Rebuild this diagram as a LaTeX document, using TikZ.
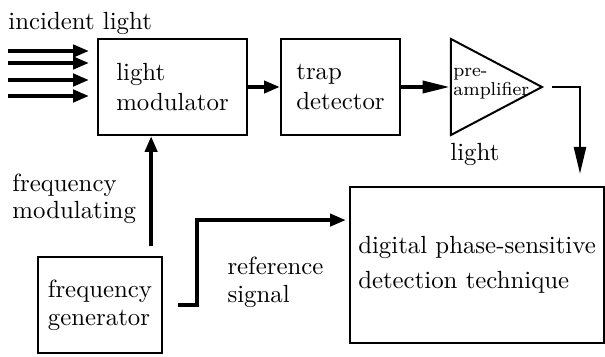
\documentclass[tikz,border=0pt]{standalone}
\usetikzlibrary{arrows.meta,positioning,shapes.geometric,calc}
\tikzset{
  >={Triangle[length=6.4pt,width=4.8pt]},
  block/.style={draw,line width=0.8pt,align=left,inner sep=0pt},
  ampshape/.style={draw,line width=0.8pt,isosceles triangle,isosceles triangle stretches,
    minimum width=38.7pt,minimum height=36.7pt,inner sep=0pt},
  amptext/.style={font=\fontsize{7.5}{6}\selectfont,align=left,inner sep=0pt},
  flow/.style={->,line width=1.6pt},
  longflow/.style={-{Triangle[length=11pt,width=4.8pt]},line width=1.6pt},
  tag/.style={align=left,inner sep=0pt,anchor=north west},
}

\begin{document}
\begin{tikzpicture}[x=0.403pt,y=-0.403pt]
\useasboundingbox (0,0) rectangle (605,356);

% top row
\node[block,minimum width=60pt,minimum height=38.7pt] (mod) at (172.5,87) {light\\modulator};
\node[block,minimum width=48pt,minimum height=38.7pt,right=12.9pt of mod] (trap) {trap\\detector};
\node[ampshape,right=19.7pt of trap] (amp) {};
\node[amptext,anchor=west] (amplabel) at ([xshift=1.2pt,yshift=1.5pt]amp.west) {pre-\\amplifier};

% bottom row
\node[block,minimum width=50pt,minimum height=38.7pt] (gen) at (100,305) {frequency\\[-0.7pt]generator};
\node[block,minimum width=102.4pt,minimum height=62.9pt] (dpsd) at (477,265) {digital phase-sensitive\\[2pt]detection technique};

% labels
\node[tag] (incident) at (8,12) {incident light};
\node[tag] (fmlabel) at (12,174) {frequency\\[-1.5pt]modulating};
\node[tag] (reflabel) at (227,257) {reference\\[-1pt]signal};
\node[tag] (lightlabel) at ([yshift=-22.5pt]amp.west) {light};

% incident beams
\foreach \y/\n in {51/a,63/b,80/c,96/d}{
  \coordinate (beam\n) at (8,\y);
  \draw[flow,shorten >=3.2pt] (beam\n) -- (beam\n -| mod.west);
}

\draw[flow] (mod) -- (trap);
\draw[longflow] (trap.east) -- (amp.west);

\coordinate (drop) at ([xshift=41.5pt]dpsd.north);
\draw[longflow,line width=1.2pt,shorten <=2.8pt,shorten >=4.8pt] (amp.apex) -| (drop);

\coordinate (fm) at ([xshift=-4.8pt]gen.north east);
\draw[flow,shorten <=4pt] (fm) -- (fm |- mod.south);

\draw[flow,shorten <=6pt,shorten >=1.2pt] (gen.east) -- ++(34,0) |- ([yshift=18.1pt]dpsd.west);

\end{tikzpicture}
\end{document}
